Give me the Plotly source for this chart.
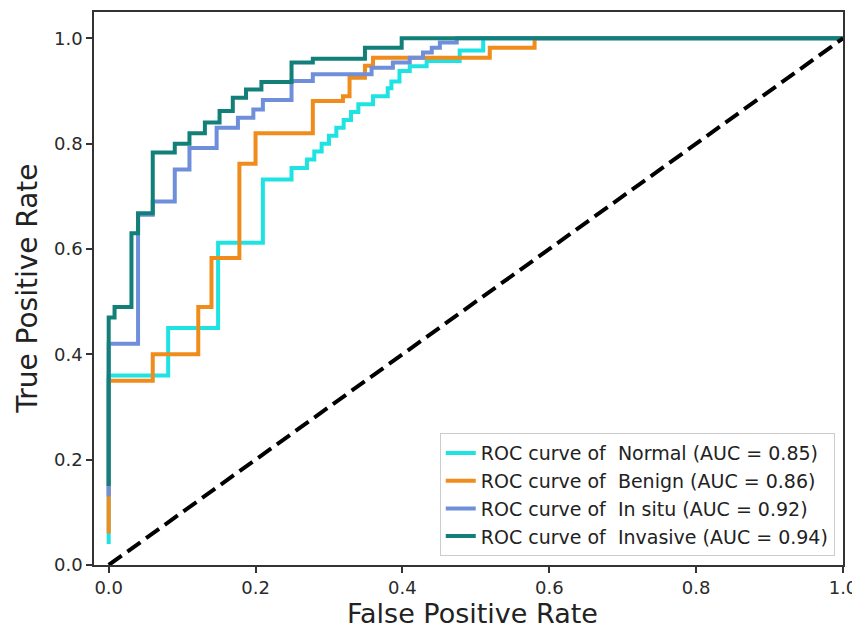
import plotly.graph_objects as go

# ROC curve data (hv steps)
normal_fpr = [0.0, 0.0, 0.081, 0.149, 0.21, 0.249, 0.27, 0.28, 0.29, 0.30, 0.31, 0.32, 0.33, 0.34, 0.36, 0.38, 0.385, 0.396, 0.41, 0.433, 0.478, 0.51, 1.0]
normal_tpr = [0.04, 0.36, 0.45, 0.612, 0.732, 0.754, 0.77, 0.785, 0.80, 0.815, 0.83, 0.845, 0.86, 0.875, 0.89, 0.905, 0.918, 0.938, 0.947, 0.957, 0.977, 1.0, 1.0]

benign_fpr = [0.0, 0.0, 0.06, 0.122, 0.14, 0.178, 0.20, 0.278, 0.319, 0.328, 0.349, 0.36, 0.519, 0.58, 1.0]
benign_tpr = [0.06, 0.35, 0.40, 0.49, 0.583, 0.762, 0.82, 0.881, 0.89, 0.925, 0.948, 0.963, 0.982, 1.0, 1.0]

insitu_fpr = [0.0, 0.0, 0.04, 0.06, 0.09, 0.11, 0.147, 0.176, 0.197, 0.21, 0.249, 0.278, 0.358, 0.387, 0.41, 0.428, 0.44, 0.451, 0.474, 1.0]
insitu_tpr = [0.13, 0.42, 0.665, 0.69, 0.751, 0.792, 0.83, 0.849, 0.865, 0.883, 0.919, 0.932, 0.944, 0.954, 0.963, 0.973, 0.982, 0.992, 1.0, 1.0]

invasive_fpr = [0.0, 0.0, 0.008, 0.031, 0.04, 0.06, 0.09, 0.11, 0.131, 0.151, 0.169, 0.187, 0.208, 0.249, 0.278, 0.349, 0.399, 1.0]
invasive_tpr = [0.15, 0.47, 0.49, 0.63, 0.668, 0.783, 0.80, 0.82, 0.84, 0.862, 0.887, 0.903, 0.917, 0.954, 0.961, 0.982, 1.0, 1.0]

class_names = ["Normal", "Benign", "In situ", "Invasive"]
auc_values = [0.85, 0.86, 0.92, 0.94]
colors = ["#1fe3e3", "#f08c1c", "#6f8fdb", "#127f78"]

chance_x = [0.0, 1.0]
chance_y = [0.0, 1.0]

x_ticks = [0.0, 0.2, 0.4, 0.6, 0.8, 1.0]
y_ticks = [0.0, 0.2, 0.4, 0.6, 0.8, 1.0]

x_title = "False Positive Rate"
y_title = "True Positive Rate"

series = [
    (normal_fpr, normal_tpr),
    (benign_fpr, benign_tpr),
    (insitu_fpr, insitu_tpr),
    (invasive_fpr, invasive_tpr),
]

fig = go.Figure()
for (fx, ty), name, auc, col in zip(series, class_names, auc_values, colors):
    fig.add_trace(go.Scatter(
        x=fx, y=ty, mode="lines",
        line=dict(color=col, width=4, shape="hv"),
        name=f"ROC curve of&nbsp; {name} (AUC = {auc:.2f})",
    ))

fig.add_trace(go.Scatter(
    x=chance_x, y=chance_y, mode="lines",
    line=dict(color="black", width=4, dash="16px,7px"),
    showlegend=False,
))

axis_common = dict(
    showgrid=False, zeroline=False, automargin=False,
    showline=True, linecolor="#333333", linewidth=1.5, mirror=True,
    ticks="outside", ticklen=6, tickwidth=1.5, tickcolor="#333333",
    tickfont=dict(family="DejaVu Sans", size=18, color="#2a2a2a"),
)

# page body has an 8px margin, so the figure is 852x624 placed at (8, 8)
fig.update_layout(
    width=852, height=624,
    margin=dict(l=86, r=17, t=4, b=67),
    paper_bgcolor="white", plot_bgcolor="white",
    font=dict(family="DejaVu Sans", color="#222222"),
    xaxis=dict(range=[-0.02, 1.0], tickvals=x_ticks, ticktext=[f"{v:.1f}" for v in x_ticks],
               **axis_common),
    yaxis=dict(range=[0.0, 1.05], tickvals=y_ticks, ticktext=[f"{v:.1f}" for v in y_ticks],
               **axis_common),
    legend=dict(
        x=0.989, y=0.016, xanchor="right", yanchor="bottom",
        bgcolor="rgba(255,255,255,0.9)", bordercolor="#cccccc", borderwidth=1,
        font=dict(family="DejaVu Sans", size=19, color="#222222"),
        tracegroupgap=0,
    ),
    showlegend=True,
    annotations=[
        dict(text=x_title, xref="paper", yref="paper", x=0.505, y=-0.088,
             xanchor="center", yanchor="middle", showarrow=False,
             font=dict(family="DejaVu Sans", size=27, color="#222222")),
        dict(text=y_title, xref="paper", yref="paper", x=-0.089, y=0.5,
             xanchor="center", yanchor="middle", showarrow=False, textangle=-90,
             font=dict(family="DejaVu Sans", size=28, color="#222222")),
    ],
)

fig.write_html("out.html")
